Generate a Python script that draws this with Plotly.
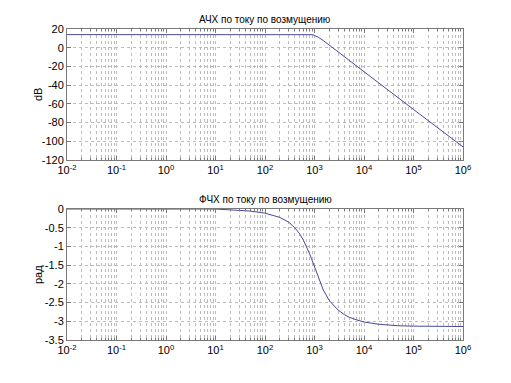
import plotly.graph_objects as go

freq = [0.01, 0.1, 1, 10, 50, 100, 200, 300, 400, 500, 600, 700, 800, 900, 1000,
        1200, 1500, 2000, 2500, 3000, 4000, 5000, 7000, 10000, 20000, 50000, 100000, 1000000]
# АЧХ, dB
mag_db = [14.0, 14.0, 14.0, 14.0, 14.0, 14.03, 14.13, 14.28, 14.46, 14.63, 14.73, 14.69, 14.44, 13.93, 13.17,
          11.13, 7.68, 2.59, -1.45, -4.74, -9.88, -13.83, -19.73, -25.97, -38.03, -53.96, -66.0, -106.0]
# ФЧХ, rad
phase = [0.0, 0.0, 0.0, -0.001, -0.055, -0.111, -0.225, -0.35, -0.50, -0.66, -0.84, -1.02, -1.20, -1.38, -1.54,
         -1.85, -2.16, -2.45, -2.60, -2.70, -2.82, -2.89, -2.96, -3.02, -3.08, -3.12, -3.13, -3.14]

x_tickvals = [1e-2, 1e-1, 1, 1e1, 1e2, 1e3, 1e4, 1e5, 1e6]
x_ticktext = ["10<sup>-2</sup>", "10<sup>-1</sup>", "10<sup>0</sup>", "10<sup>1</sup>", "10<sup>2</sup>",
              "10<sup>3</sup>", "10<sup>4</sup>", "10<sup>5</sup>", "10<sup>6</sup>"]
y1_ticks = [20, 0, -20, -40, -60, -80, -100, -120]
y1_text = ["20", "0", "-20", "-40", "-60", "-80", "-100", "-120"]
y2_ticks = [0, -0.5, -1, -1.5, -2, -2.5, -3, -3.5]
y2_text = ["0", "-0.5", "-1", "-1.5", "-2", "-2.5", "-3", "-3.5"]

minor_vals = [m * 10 ** e for e in range(-2, 6) for m in range(2, 10)]

line_color = "#4a4a9a"
grid_color = "#bcbcbc"
axis_color = "#7a7a7a"
font = dict(family="Liberation Sans, Arial, sans-serif", size=11, color="#000000")
title_font = dict(family="Liberation Sans, Arial, sans-serif", size=10, color="#000000")

fig = go.Figure()
fig.add_trace(go.Scatter(x=freq, y=mag_db, mode="lines", line=dict(color=line_color, width=1),
                         xaxis="x", yaxis="y", showlegend=False))
fig.add_trace(go.Scatter(x=freq, y=phase, mode="lines", line=dict(color=line_color, width=1),
                         xaxis="x2", yaxis="y2", showlegend=False))

xcommon = dict(type="log", range=[-2, 6], tickvals=x_tickvals, ticktext=x_ticktext,
               showgrid=True, gridcolor=grid_color, griddash="dot", gridwidth=1,
               showline=True, linecolor=axis_color, linewidth=1, mirror="ticks",
               ticks="inside", ticklen=4, tickcolor=axis_color, zeroline=False,
               tickfont=font, domain=[67 / 511, 463 / 511], automargin=False,
               minor=dict(tickvals=minor_vals, showgrid=True, gridcolor=grid_color,
                          griddash="dot", gridwidth=1, ticks="inside", ticklen=2,
                          tickcolor=axis_color))
ycommon = dict(showgrid=True, gridcolor=grid_color, griddash="dot", gridwidth=1,
               showline=True, linecolor=axis_color, linewidth=1, mirror="ticks",
               ticks="inside", ticklen=4, tickcolor=axis_color, zeroline=False,
               tickfont=font, automargin=False)

def ann(text, x, y, f, angle=0):
    return dict(text=text, x=x / 511, y=(383 - y) / 383, xref="paper", yref="paper",
                xanchor="center", yanchor="middle", textangle=angle, showarrow=False, font=f)

fig.update_layout(
    width=511, height=383,
    margin=dict(l=0, r=0, t=0, b=0),
    paper_bgcolor="white", plot_bgcolor="white",
    xaxis=dict(xcommon, anchor="y"),
    xaxis2=dict(xcommon, anchor="y2"),
    yaxis=dict(ycommon, range=[-120, 20], tickvals=y1_ticks, ticktext=y1_text,
               domain=[(383 - 160) / 383, (383 - 29) / 383], anchor="x"),
    yaxis2=dict(ycommon, range=[-3.5, 0], tickvals=y2_ticks, ticktext=y2_text,
                domain=[(383 - 340) / 383, (383 - 209) / 383], anchor="x2"),
    annotations=[
        ann("АЧХ по току по возмущению", 265, 19, title_font),
        ann("ФЧХ по току по возмущению", 265, 199, title_font),
        ann("dB", 38, 95, font, -90),
        ann("рад", 38, 275, font, -90),
    ],
)

fig.write_html("out.html", config={"displayModeBar": False},
               post_script="document.body.style.margin='0px';")
